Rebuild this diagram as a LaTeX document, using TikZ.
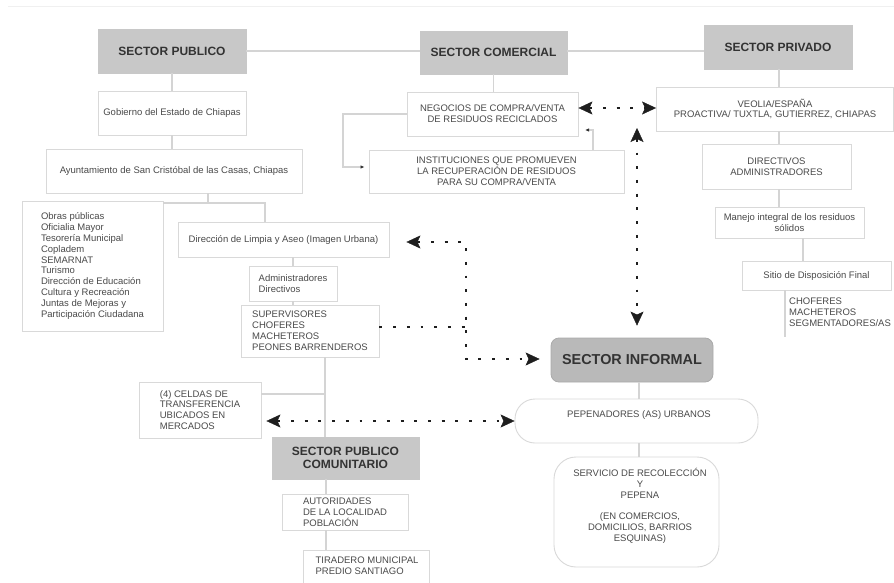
\documentclass[tikz,border=0pt]{standalone}
\usepackage{fontspec}
\setmainfont{Liberation Sans}
\usetikzlibrary{arrows.meta,calc}
\definecolor{boxline}{HTML}{D9D9D9}
\definecolor{connline}{HTML}{D4D4D4}
\definecolor{sectfill}{HTML}{C8C8C8}
\definecolor{inffill}{HTML}{B9B9B9}
\definecolor{txt}{HTML}{4A4A4A}
\definecolor{hdr}{HTML}{333333}
\definecolor{dotc}{HTML}{1E1E1E}
\begin{document}
\begin{tikzpicture}[x=1pt,y=-1pt,
  every node/.style={text=txt, font=\fontsize{9.5}{10.85}\selectfont, inner sep=0pt},
  box/.style={draw=boxline, line width=0.9pt, fill=white, align=center},
  lbox/.style={box, align=left},
  sect/.style={fill=sectfill, draw=sectfill, align=center, text=hdr,
    font=\bfseries\fontsize{12}{13.5}\selectfont},
  conn/.style={draw=connline, line width=1.1pt},
  dotl/.style={draw=dotc, line width=2.9pt, dash pattern=on 2.9pt off 10.8pt},
  darr/.style={dotl, {Stealth[length=14pt,width=13pt,inset=3pt,line width=0.4pt]}-{Stealth[length=14pt,width=13pt,inset=3pt,line width=0.4pt]}},
  smarr/.style={conn, -{Latex[length=4pt,width=3.5pt,color=black!80]}}
]
\useasboundingbox (0,0) rectangle (894,583);
\clip (0,0) rectangle (894,583);
\fill[white] (0,0) rectangle (894,583);
\draw[draw=black!6, line width=0.8pt] (8,6) -- (894,6);

% ---------------- sector headers
\node[sect, minimum width=148pt, minimum height=44pt] (pub) at (172,51) {SECTOR PUBLICO};
\node[sect, minimum width=147pt, minimum height=43pt] (com) at (493.5,52.5) {SECTOR COMERCIAL};
\node[sect, minimum width=148pt, minimum height=44pt] (priv) at (778,47) {SECTOR PRIVADO};

% ---------------- public branch
\node[box, minimum width=148pt, minimum height=44pt] (gob) at (172,113) {Gobierno del Estado de Chiapas};
\node[box, minimum width=256pt, minimum height=44pt] (ayu) at (174,171) {Ayuntamiento de San Cristóbal de las Casas, Chiapas};
\node[lbox, minimum width=141pt, minimum height=130pt] (obras) at (92.5,266) {Obras públicas\\Oficialia Mayor\\Tesorería Municipal\\Copladem\\SEMARNAT\\Turismo\\Dirección de Educación\\Cultura y Recreación\\Juntas de Mejoras y\\Participación Ciudadana};
\node[box, minimum width=211pt, minimum height=35pt] (dir) at (283.5,239.5) {Dirección de Limpia y Aseo (Imagen Urbana)};
\node[lbox, minimum width=88pt, minimum height=35pt] (adm) at (293,283.5) {Administradores\\Directivos};
\node[lbox, minimum width=138pt, minimum height=52pt] (sup) at (310,331) {SUPERVISORES\\CHOFERES\\MACHETEROS\\PEONES BARRENDEROS};
\node[lbox, minimum width=122pt, minimum height=56pt] (celdas) at (200,410) {(4) CELDAS DE\\TRANSFERENCIA\\UBICADOS EN\\MERCADOS};
\node[sect, minimum width=147pt, minimum height=42pt] (comu) at (345.5,458) {SECTOR PUBLICO\\COMUNITARIO};
\node[lbox, minimum width=126pt, minimum height=36pt] (aut) at (345,512) {AUTORIDADES\\DE LA LOCALIDAD\\POBLACIÓN};
\node[box, minimum width=126pt, minimum height=60pt, anchor=north] (tir) at (366,550) {};
\node[align=left] (tirt) at (367,566) {TIRADERO MUNICIPAL\\PREDIO SANTIAGO};

% ---------------- commercial branch
\node[box, minimum width=171pt, minimum height=44pt] (neg) at (492.5,114) {NEGOCIOS DE COMPRA/VENTA\\DE RESIDUOS RECICLADOS};
\node[box, minimum width=255pt, minimum height=43pt] (inst) at (496.5,171.5) {INSTITUCIONES QUE PROMUEVEN\\LA RECUPERACIÓN DE RESIDUOS\\PARA SU COMPRA/VENTA};

% ---------------- private branch
\node[box, minimum width=237pt, minimum height=44pt] (veo) at (775,109) {VEOLIA/ESPAÑA\\PROACTIVA/ TUXTLA, GUTIERREZ, CHIAPAS};
\node[box, minimum width=149pt, minimum height=45pt] (dire) at (776.5,166.5) {DIRECTIVOS\\ADMINISTRADORES};
\node[box, minimum width=149pt, minimum height=31pt] (man) at (789.5,222.5) {Manejo integral de los residuos\\sólidos};
\node[box, minimum width=149pt, minimum height=29pt] (sit) at (816.5,275.5) {Sitio de Disposición Final};
\node[align=left, anchor=north west] (chof) at (789,297.5) {CHOFERES\\MACHETEROS\\SEGMENTADORES/AS};

% ---------------- informal sector
\node[fill=inffill, draw=inffill!92!black, line width=0.8pt, rounded corners=8pt,
      minimum width=162pt, minimum height=44pt, text=hdr,
      font=\bfseries\fontsize{14.4}{16}\selectfont] (inf) at (632,360) {SECTOR INFORMAL};
\node[box, rounded corners=20pt, minimum width=243pt, minimum height=44pt] (pep) at (636.5,421) {};
\node (pept) at (639,415) {PEPENADORES (AS) URBANOS};
\node[box, rounded corners=22pt, minimum width=165pt, minimum height=110pt] (serv) at (636.5,512) {};
\node[align=center] (servt) at (640,506) {SERVICIO DE RECOLECCIÓN\\Y\\PEPENA\\[10.85pt](EN COMERCIOS,\\DOMICILIOS, BARRIOS\\ESQUINAS)};

% ---------------- grey connectors
\draw[conn] (pub.east) -- (pub.east -| com.west);
\draw[conn] (com.east |- pub.east) -- (pub.east -| priv.west);
\draw[conn] (pub.south) -- (gob.north);
\draw[conn] (gob.south) -- (gob.south |- ayu.north);
\coordinate (j1) at (208,203);
\coordinate (j2) at (265,203);
\draw[conn] (ayu.south -| j1) -- (j1);
\draw[conn] (obras.north east |- j1) -- (j2) -- (j2 |- dir.north);
\draw[conn] (adm.north |- dir.south) -- (adm.north);
\draw[conn] (adm.south) -- (adm.south |- sup.north);
\coordinate (j3) at (325,394);
\draw[conn] (j3 |- sup.south) -- (j3 |- comu.north);
\draw[conn] (celdas.east |- j3) -- (j3);
\coordinate (j7) at (326,0);
\draw[conn] (j7 |- comu.south) -- (j7 |- aut.north);
\draw[conn] (j7 |- aut.south) -- (j7 |- tir.north);
\draw[conn] (neg.north -| com.south) -- (com.south);
\coordinate (j4) at (343,167);
\draw[smarr] (neg.west) -| (j4) -- ([xshift=-4pt]inst.west |- j4);
\coordinate (j5) at (593,130);
\coordinate (j6) at (585,130);
\draw[smarr] (j5 |- inst.north) -- (j5) -- (j6);
\coordinate (j8) at (779,0);
\draw[conn] (j8 |- priv.south) -- (j8 |- veo.north);
\draw[conn] (j8 |- veo.south) -- (j8 |- dire.north);
\draw[conn] (j8 |- dire.south) -- (j8 |- man.north);
\coordinate (j9) at (803,0);
\draw[conn] (j9 |- man.south) -- (j9 |- sit.north);
\coordinate (j10) at (785,337);
\draw[conn] (j10 |- sit.south) -- (j10);
\coordinate (j11) at (639,0);
\draw[conn] (j11 |- inf.south) -- (j11 |- pep.north);
\draw[conn] (j11 |- pep.south) -- (j11 |- serv.north);

% ---------------- dotted black arrows
\draw[darr] ([yshift=6pt]neg.east) -- ([yshift=6pt]neg.east -| veo.west);
\coordinate (v1) at (637,128);
\draw[darr] (v1) -- ([yshift=12pt]inf.north -| v1);
\coordinate (e1) at (466,242);
\coordinate (e2) at (466,359);
\draw[darr] ([xshift=17pt]dir.east |- e1) -- (e1) -- (e2) -- ([xshift=-11pt]inf.west |- e2);
\draw[dotl] ([yshift=4pt]sup.east) -- ([yshift=4pt]sup.east -| e1);
\draw[darr] ([xshift=5pt]celdas.east |- pep.west) -- (pep.west);
\end{tikzpicture}
\end{document}
